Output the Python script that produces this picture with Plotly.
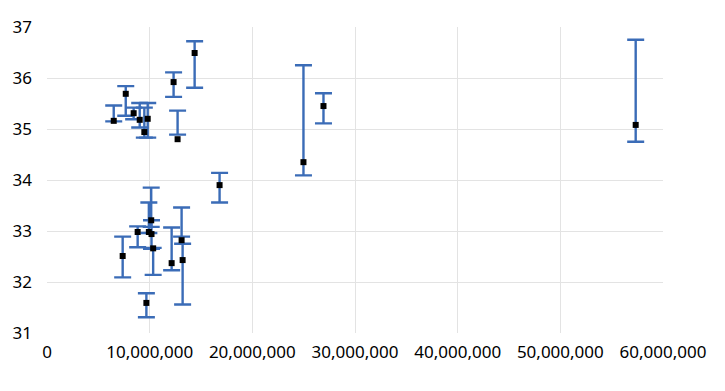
import plotly.graph_objects as go

# Data (x values, y values, upper and lower error amounts)
x_vals = [6_500_000, 7_670_000, 7_370_000, 8_440_000, 8_830_000, 9_030_000,
          9_920_000, 9_480_000, 9_810_000, 9_680_000, 10_150_000, 10_180_000,
          10_340_000, 12_140_000, 12_330_000, 12_720_000, 13_110_000, 13_210_000,
          14_380_000, 16_810_000, 24_980_000, 26_930_000, 57_340_000]
y_vals = [35.16, 35.69, 32.51, 35.31, 32.98, 35.18,
          32.98, 34.94, 35.20, 31.59, 33.21, 32.94,
          32.66, 32.37, 35.92, 34.80, 32.82, 32.43,
          36.49, 33.90, 34.35, 35.45, 35.08]
err_plus = [0.30, 0.15, 0.38, 0.11, 0.11, 0.33,
            0.58, 0.48, 0.31, 0.19, 0.64, 0.27,
            0.01, 0.70, 0.19, 0.56, 0.64, 0.32,
            0.23, 0.24, 1.90, 0.25, 1.67]
err_minus = [0.01, 0.43, 0.42, 0.12, 0.30, 0.15,
             0.02, 0.11, 0.37, 0.28, 0.13, 0.29,
             0.52, 0.14, 0.29, -0.09, -0.07, 0.87,
             0.68, 0.34, 0.26, 0.34, 0.33]

x_ticks = [0, 10_000_000, 20_000_000, 30_000_000, 40_000_000, 50_000_000, 60_000_000]
x_tick_text = ["0", "10,000,000", "20,000,000", "30,000,000", "40,000,000", "50,000,000", "60,000,000"]
y_ticks = [31, 32, 33, 34, 35, 36, 37]

ERR_COLOR = "#3b6cb7"
GRID = "#e3e3e3"
FONT = "Noto Sans, Open Sans, DejaVu Sans, sans-serif"

fig = go.Figure()
fig.add_trace(go.Scatter(
    x=x_vals, y=y_vals, mode="markers",
    marker=dict(symbol="square", size=6, color="#000000", line=dict(width=0)),
    error_y=dict(type="data", symmetric=False, array=err_plus, arrayminus=err_minus,
                 color=ERR_COLOR, thickness=2.4, width=8.5),
    showlegend=False,
))

fig.update_layout(
    width=725, height=391,
    margin=dict(l=47, r=62, t=27, b=58),
    paper_bgcolor="white", plot_bgcolor="white",
    font=dict(family=FONT, size=17, color="#000000"),
    xaxis=dict(range=[0, 60_000_000], tickvals=x_ticks, ticktext=x_tick_text,
               showgrid=True, gridcolor=GRID, gridwidth=1, zeroline=False,
               showline=False, ticks="", ticklabelstandoff=7, automargin=False),
    yaxis=dict(range=[31, 37], tickvals=y_ticks,
               showgrid=True, gridcolor=GRID, gridwidth=1, zeroline=False,
               showline=False, ticks="", ticklabelstandoff=14, automargin=False),
)

fig.write_html("out.html",
               config={"displayModeBar": False},
               post_script="document.body.style.margin='0';document.body.style.overflow='hidden';")
